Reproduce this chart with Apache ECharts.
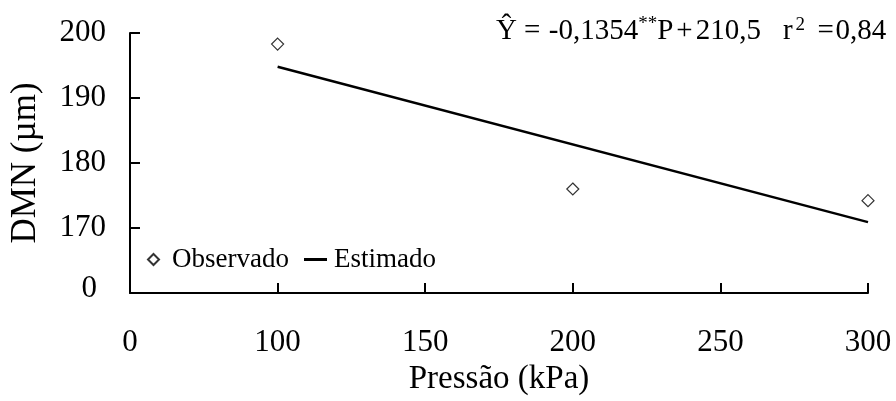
<!DOCTYPE html>
<html>
<head>
<meta charset="utf-8">
<script src="https://cdn.jsdelivr.net/npm/echarts@6/dist/echarts.min.js"></script>
<style>
  html, body { margin: 0; padding: 0; background: #fff; }
  #chart { width: 896px; height: 401px; }
</style>
</head>
<body>
<div id="chart"></div>
<script>
// Observed DMN at each pressure
const pressao = [100, 200, 300];
const dmnObservado = [198.3, 176.0, 174.2];
// Fitted line end points
const pressaoEstimado = [100, 300];
const dmnEstimado = [194.8, 170.9];
// Axis ranges (the lowest tick of each axis is shown as 0, broken axis)
const xTicks = [50, 100, 150, 200, 250, 300];
const yTicks = [160, 170, 180, 190, 200];

const FONT = 'Liberation Serif';

const chart = echarts.init(document.getElementById('chart'), null, { renderer: 'canvas' });

const axisCommon = {
  axisLine: { show: true, lineStyle: { color: '#000', width: 2 } },
  axisTick: { show: true, inside: true, length: 10, lineStyle: { color: '#000', width: 2 } },
  splitLine: { show: false }
};

// Regression equation: main-size tokens with fixed gaps, plus superscripts
const eqMain = (left) => ({ fontFamily: FONT, fontSize: 29, color: '#000', padding: [0, 0, 0, left] });
const eqSup = (left, raise) => ({ fontFamily: FONT, fontSize: 19, color: '#000', padding: [0, 0, raise, left] });

chart.setOption({
  backgroundColor: '#fff',
  animation: false,
  grid: { left: 129, right: 28, top: 33, bottom: 100 },
  xAxis: Object.assign({}, axisCommon, {
    type: 'value',
    min: xTicks[0],
    max: xTicks[xTicks.length - 1],
    interval: 50,
    name: 'Pressão (kPa)',
    nameLocation: 'middle',
    nameGap: 70,
    nameTextStyle: { color: '#000', fontFamily: FONT, fontSize: 33 },
    axisLabel: {
      color: '#000', fontFamily: FONT, fontSize: 31, margin: 34,
      formatter: v => (v === xTicks[0] ? '0' : String(v))
    }
  }),
  yAxis: Object.assign({}, axisCommon, {
    type: 'value',
    min: yTicks[0],
    max: yTicks[yTicks.length - 1],
    interval: 10,
    name: 'DMN (µm)',
    nameLocation: 'middle',
    nameRotate: 90,
    nameGap: 87,
    nameTextStyle: { color: '#000', fontFamily: FONT, fontSize: 35 },
    axisLabel: {
      color: '#000', fontFamily: FONT, fontSize: 31, margin: 24,
      formatter: v => (v === yTicks[0] ? '{z|0}' : String(v)),
      rich: { z: { fontFamily: FONT, fontSize: 31, color: '#000', padding: [0, 9, 8, 0] } }
    }
  }),
  legend: [
    {
      data: [{ name: 'Observado', icon: 'diamond' }],
      left: 147, top: 246, padding: 0,
      itemWidth: 11, itemHeight: 11,
      textStyle: { color: '#000', fontFamily: FONT, fontSize: 27, padding: [0, 0, 0, 8] }
    },
    {
      data: [{ name: 'Estimado', icon: 'rect' }],
      left: 304, top: 246, padding: 0,
      itemWidth: 23, itemHeight: 3,
      textStyle: { color: '#000', fontFamily: FONT, fontSize: 27, padding: [0, 0, 0, 2] }
    }
  ],
  graphic: [
    {
      type: 'text',
      left: 496, top: 15,
      style: {
        text: '{a|Ŷ}{eq|=}{neg|-0,1354}{s|**}{a|P}{op|+}{op|210,5}{r|r}{f|2}{eq2|=}{v|0,84}',
        fill: '#000',
        rich: {
          a: eqMain(0),
          eq: eqMain(7),
          neg: eqMain(8.5),
          op: eqMain(3),
          r: eqMain(22),
          eq2: eqMain(12.5),
          v: eqMain(1.5),
          s: eqSup(0, 14),
          f: eqSup(3, 12)
        }
      }
    }
  ],
  series: [
    {
      name: 'Estimado',
      type: 'line',
      data: pressaoEstimado.map((p, i) => [p, dmnEstimado[i]]),
      symbol: 'none',
      lineStyle: { color: '#000', width: 2.5 },
      itemStyle: { color: '#000' },
      z: 2
    },
    {
      name: 'Observado',
      type: 'scatter',
      data: pressao.map((p, i) => [p, dmnObservado[i]]),
      symbol: 'diamond',
      symbolSize: 12,
      itemStyle: { color: '#fff', borderColor: '#000', borderWidth: 1.2 },
      z: 3
    }
  ]
});
</script>
</body>
</html>
